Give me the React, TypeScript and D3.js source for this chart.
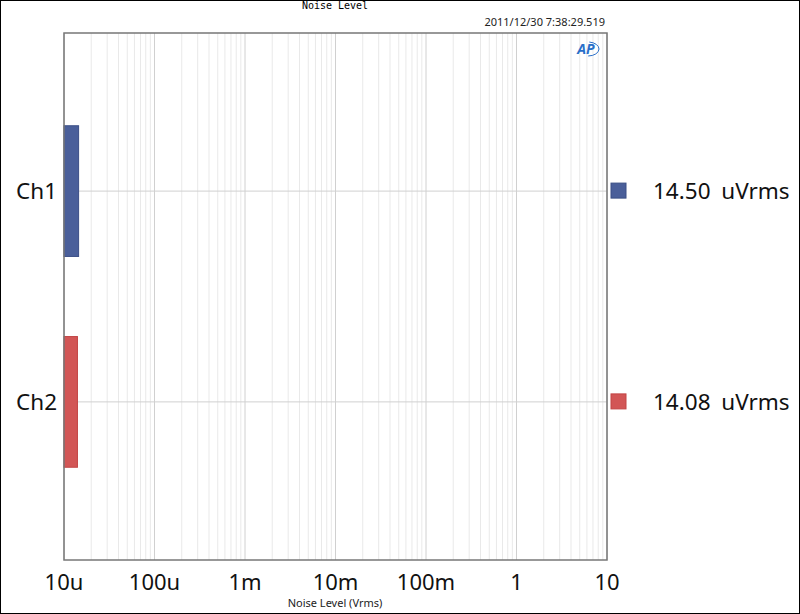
import React from 'react';
import * as d3 from 'd3';

const channels = ['Ch1', 'Ch2'];
const noiseValues = [14.5e-6, 14.08e-6]; // Vrms
const legendLabels = ['14.50 uVrms', '14.08 uVrms'];
const tickValues = [1e-5, 1e-4, 1e-3, 1e-2, 1e-1, 1, 10];
const tickLabels = ['10u', '100u', '1m', '10m', '100m', '1', '10'];
const colors = ['#4a5f9a', '#d25656'];
const strokes = ['#3b4f86', '#c24545'];

const W = 800;
const H = 614;
const left = 64;
const right = 607;
const top = 33;
const bottom = 560;
const font = '"Noto Sans", "Open Sans", sans-serif';

const App: React.FC = () => {
  const x = d3.scaleLog().domain([1e-5, 10]).range([left, right]);
  const y = d3.scaleBand<string>().domain(channels).range([top, bottom])
    .paddingInner(0.38).paddingOuter(0.44);

  // minor grid: 2..9 within every decade
  const minor: number[] = [];
  for (let e = -5; e < 1; e++) {
    for (let m = 2; m <= 9; m++) minor.push(m * Math.pow(10, e));
  }

  return (
    <svg width={W} height={H} style={{ display: 'block', position: 'absolute', left: 0, top: 0 }}>
      <rect x={0.5} y={0.5} width={W - 1} height={H - 1} fill="#fff" stroke="#000" />

      <text x={335} y={9} fontFamily='"DejaVu Sans Mono", monospace' fontSize={10} textAnchor="middle" fill="#000">Noise Level</text>
      <text x={605} y={26} fontFamily={font} fontSize={11} textAnchor="end" fill="#222">2011/12/30 7:38:29.519</text>

      {minor.map((v, i) => (
        <line key={'m' + i} x1={x(v)} x2={x(v)} y1={top} y2={bottom} stroke="#e9e9e9" strokeWidth={1} />
      ))}
      {tickValues.map((v, i) => (
        <line key={'M' + i} x1={x(v)} x2={x(v)} y1={top} y2={bottom} stroke="#d0d0d0" strokeWidth={1} />
      ))}
      {channels.map(c => (
        <line key={'h' + c} x1={left} x2={right} y1={y(c)! + y.bandwidth() / 2} y2={y(c)! + y.bandwidth() / 2} stroke="#d0d0d0" />
      ))}

      {channels.map((c, i) => (
        <rect key={'b' + c} x={left} y={y(c)!} width={x(noiseValues[i]) - left} height={y.bandwidth()}
          fill={colors[i]} stroke={strokes[i]} strokeWidth={1} />
      ))}

      <rect x={left} y={top} width={right - left} height={bottom - top} fill="none" stroke="#777" strokeWidth={1.5} />

      {/* AP logo */}
      <text x={586} y={54} fontFamily={font} fontSize={14} fontWeight="bold" fontStyle="italic" textAnchor="middle" fill="#2a6fc9">AP</text>
      <ellipse cx={588} cy={49} rx={11} ry={7} fill="none" stroke="#2a6fc9" strokeWidth={1} strokeDasharray="14 30" />

      {channels.map(c => (
        <text key={'yl' + c} x={57} y={y(c)! + y.bandwidth() / 2 + 8} fontFamily={font} fontSize={22.5} textAnchor="end" fill="#111">{c}</text>
      ))}

      {channels.map((c, i) => (
        <g key={'lg' + c}>
          <rect x={611} y={y(c)! + y.bandwidth() / 2 - 8} width={15} height={15} fill={colors[i]} stroke={strokes[i]} />
          <text x={653} y={y(c)! + y.bandwidth() / 2 + 8} fontFamily={font} fontSize={22.5} wordSpacing={5} fill="#111">{legendLabels[i]}</text>
        </g>
      ))}

      {tickValues.map((v, i) => (
        <text key={'t' + i} x={x(v)} y={590} fontFamily={font} fontSize={22} textAnchor="middle" fill="#111">{tickLabels[i]}</text>
      ))}
      <text x={335} y={607} fontFamily={font} fontSize={11} textAnchor="middle" fill="#222">Noise Level (Vrms)</text>
    </svg>
  );
};

export default App;
